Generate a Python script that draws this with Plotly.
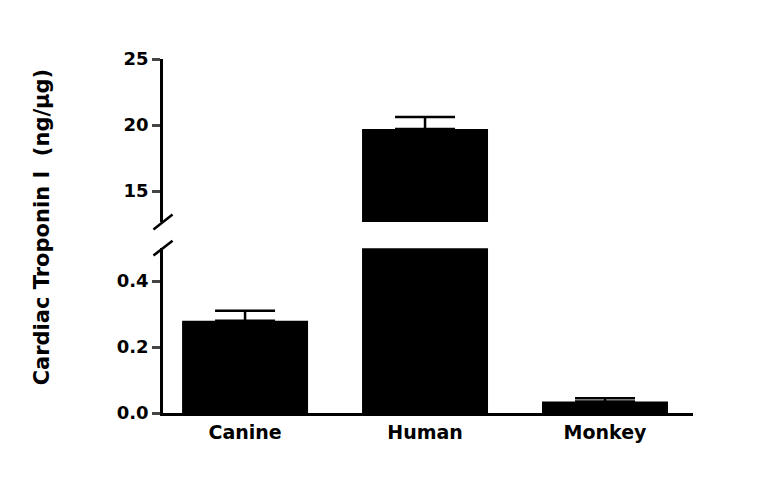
import plotly.graph_objects as go

categories = ["Canine", "Human", "Monkey"]
values = [0.28, 19.7, 0.035]
errors = [0.03, 0.9, 0.01]

fig = go.Figure()
for ax in ["y", "y2"]:
    fig.add_trace(go.Bar(
        x=categories, y=values, yaxis=ax, width=0.7,
        marker=dict(color="black", line=dict(width=0)),
        error_y=dict(type="data", array=errors, arrayminus=[0, 0, 0], symmetric=False,
                     color="black", thickness=2.5, width=30),
        showlegend=False,
    ))

tfont = dict(family="DejaVu Sans", size=18, color="black", weight="bold")
axis_common = dict(showline=True, linewidth=2.5, linecolor="black", ticks="outside",
                   ticklen=8, tickwidth=2.5, showgrid=False, zeroline=False,
                   tickfont=tfont)

fig.update_layout(
    width=768, height=483,
    plot_bgcolor="white", paper_bgcolor="white",
    margin=dict(l=155, r=83, t=32, b=78),
    xaxis=dict(range=[-0.456, 2.489], showline=True, linewidth=2.5, linecolor="black",
               ticks="", tickfont=dict(family="DejaVu Sans", size=19, color="black", weight="bold"),
               anchor="y"),
    yaxis=dict(domain=[0, 0.442], range=[0, 0.5], tickvals=[0, 0.2, 0.4],
               ticktext=["0.0", "0.2", "0.4"], **axis_common),
    yaxis2=dict(domain=[0.512, 0.949], range=[12.65, 25], tickvals=[15, 20, 25],
                anchor="x", **axis_common),
)

# axis title spanning both panels
fig.add_annotation(text="<b>Cardiac Troponin I  (ng/μg)</b>", textangle=-90,
                   xref="paper", yref="paper", x=-0.255, y=0.5, showarrow=False,
                   font=dict(family="DejaVu Sans", size=21, color="black"))

# break marks
for yb in [0.442, 0.512]:
    fig.add_shape(type="line", xref="paper", yref="paper",
                  x0=-0.018, x1=0.018, y0=yb - 0.02, y1=yb + 0.02,
                  line=dict(color="black", width=2.5))

fig.write_html("out.html")
